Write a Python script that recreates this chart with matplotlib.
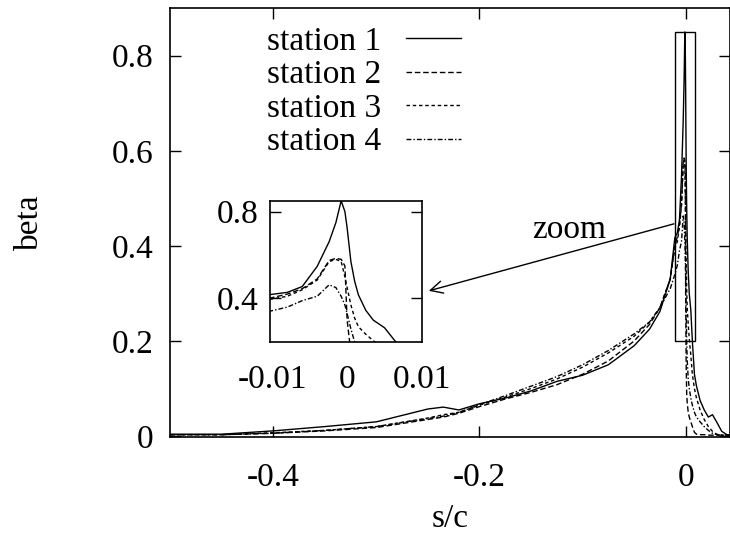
import numpy as np
import matplotlib.pyplot as plt
from matplotlib.patches import Rectangle

plt.rcParams['font.family'] = ['Liberation Serif', 'DejaVu Serif']

# s/c grid shared by all stations
s = [-0.50, -0.45, -0.40, -0.35, -0.30, -0.25, -0.235, -0.22, -0.20, -0.175,
     -0.15, -0.125, -0.10, -0.075, -0.05, -0.035, -0.025, -0.015, -0.0105,
     -0.008, -0.006, -0.004, -0.0024, -0.0015, -0.0008, -0.0003, 0.0, 0.0005,
     0.001, 0.0015, 0.0025, 0.0035, 0.005, 0.0065, 0.0085, 0.0105, 0.014,
     0.018, 0.022, 0.026, 0.03, 0.035, 0.04, 0.045]

station1 = [0.004, 0.004, 0.011, 0.020, 0.030, 0.057, 0.061, 0.055, 0.068, 0.080,
            0.095, 0.115, 0.128, 0.150, 0.190, 0.225, 0.262, 0.330, 0.417,
            0.428, 0.455, 0.548, 0.662, 0.750, 0.850, 0.800, 0.725, 0.570,
            0.480, 0.417, 0.345, 0.300, 0.265, 0.200, 0.130, 0.105, 0.075,
            0.055, 0.040, 0.045, 0.030, 0.010, 0.003, 0.002]
station2 = [0.003, 0.003, 0.006, 0.011, 0.018, 0.035, 0.040, 0.048, 0.062, 0.078,
            0.092, 0.108, 0.130, 0.158, 0.200, 0.235, 0.270, 0.330, 0.400,
            0.420, 0.445, 0.490, 0.575, 0.585, 0.580, 0.550, 0.300, 0.150,
            0.090, 0.070, 0.050, 0.040, 0.030, 0.020, 0.008, 0.004, 0.003,
            0.003, 0.002, 0.002, 0.002, 0.002, 0.002, 0.002]
station3 = [0.003, 0.003, 0.007, 0.012, 0.020, 0.038, 0.045, 0.050, 0.065, 0.082,
            0.100, 0.120, 0.145, 0.175, 0.210, 0.240, 0.270, 0.330, 0.395,
            0.410, 0.440, 0.485, 0.570, 0.580, 0.570, 0.500, 0.450, 0.370,
            0.310, 0.270, 0.235, 0.205, 0.170, 0.130, 0.100, 0.080, 0.055,
            0.035, 0.020, 0.010, 0.004, 0.002, 0.002, 0.002]
station4 = [0.003, 0.003, 0.006, 0.012, 0.020, 0.037, 0.042, 0.050, 0.066, 0.085,
            0.105, 0.125, 0.150, 0.180, 0.215, 0.240, 0.270, 0.310, 0.340,
            0.360, 0.390, 0.410, 0.463, 0.450, 0.410, 0.370, 0.330, 0.260,
            0.200, 0.160, 0.120, 0.100, 0.080, 0.065, 0.050, 0.040, 0.030,
            0.020, 0.012, 0.006, 0.003, 0.002, 0.002, 0.002]

labels = ["station 1", "station 2", "station 3", "station 4"]
series = [station1, station2, station3, station4]
styles = ['-', (0, (4, 2)), (0, (2.5, 2)), (0, (3.5, 1.5, 1, 1.5))]

fs = 24

fig = plt.figure(figsize=(7.3, 5.47), dpi=100)
ax = fig.add_axes([0.233, 0.201, 0.767, 0.784])

for y, lab, ls in zip(series, labels, styles):
    ax.plot(s, y, color='black', lw=1.0, ls=ls, label=lab)

ax.set_xlim(-0.5, 0.043)
ax.set_ylim(-0.002, 0.9)
ax.set_xticks([-0.4, -0.2, 0])
ax.set_xticklabels(["-0.4", "-0.2", "0"])
ax.set_yticks([0, 0.2, 0.4, 0.6, 0.8])
ax.set_yticklabels(["0", "0.2", "0.4", "0.6", "0.8"])
ax.tick_params(direction='in', top=True, right=True, length=8, width=1,
               labelsize=fs)
ax.tick_params(axis='x', pad=18)
ax.tick_params(axis='y', pad=12)
for sp in ax.spines.values():
    sp.set_linewidth(1.2)
ax.set_xlabel("s/c", fontsize=fs, labelpad=8)
ax.set_ylabel("beta", fontsize=fs, labelpad=48)

leg = ax.legend(loc='upper right', bbox_to_anchor=(0.632, 0.952),
                bbox_transform=fig.transFigure, frameon=False,
                markerfirst=False, fontsize=fs, handlelength=1.65,
                handletextpad=0.75, labelspacing=0.09, borderpad=0,
                borderaxespad=0)

# zoom window
xz = (-0.0103, 0.0092)
yz = (0.2, 0.85)
ax.add_patch(Rectangle((xz[0], yz[0]), xz[1] - xz[0], yz[1] - yz[0],
                       fill=False, lw=1.0, ec='black'))
ax.annotate("", xy=(-0.2517, 0.304), xytext=(-0.0088, 0.448),
            arrowprops=dict(arrowstyle='->', lw=1.0, color='black',
                            mutation_scale=22))
ax.text(-0.113, 0.435, "zoom", fontsize=fs, ha='center', va='center')

ins = fig.add_axes([0.370, 0.375, 0.208, 0.258])
for y, ls in zip(series, styles):
    ins.plot(s, y, color='black', lw=1.0, ls=ls)
ins.set_xlim(*xz)
ins.set_ylim(*yz)
ins.set_xticks([-0.01, 0, 0.01])
ins.set_xticklabels(["-0.01", "0", "0.01"])
ins.set_yticks([0.4, 0.8])
ins.set_yticklabels(["0.4", "0.8"])
ins.tick_params(axis='y', direction='in', right=True, length=8, width=1,
                labelsize=fs, pad=8)
ins.tick_params(axis='x', length=0, labelsize=fs, pad=16)
for sp in ins.spines.values():
    sp.set_linewidth(1.2)

fig.savefig("out.png", dpi=100)
